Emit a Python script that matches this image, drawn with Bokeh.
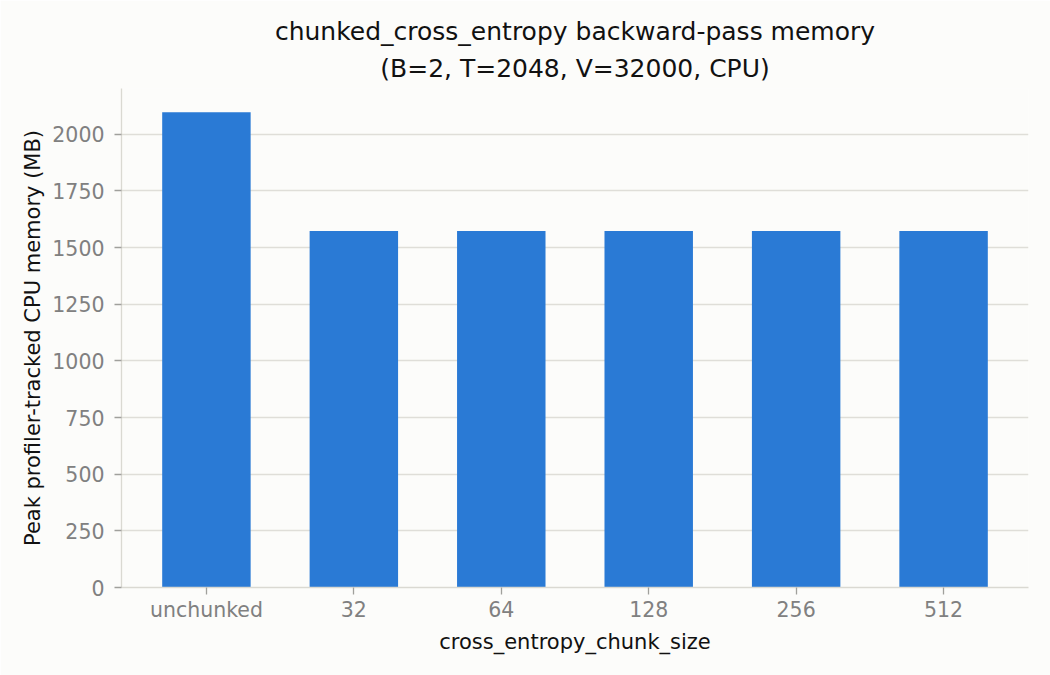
from bokeh.plotting import figure
from bokeh.models import FactorRange, Range1d, FixedTicker, ColumnDataSource, Title
from bokeh.embed import file_html
from bokeh.resources import INLINE

categories = ["unchunked", "32", "64", "128", "256", "512"]
memory_mb = [2097, 1573, 1573, 1573, 1573, 1573]
y_ticks = [0, 250, 500, 750, 1000, 1250, 1500, 1750, 2000]
title_lines = ["chunked_cross_entropy backward-pass memory", "(B=2, T=2048, V=32000, CPU)"]

FONT = "DejaVu Sans"
BG = "#fcfcfa"

src = ColumnDataSource(dict(cat=categories, mem=memory_mb))

p = figure(
    width=1050, height=675,
    x_range=FactorRange(*categories, range_padding=0.076, range_padding_units="absolute"),
    y_range=Range1d(0, 2202),
    output_backend="svg", toolbar_location=None,
    min_border_left=121, min_border_right=22, min_border_top=88, min_border_bottom=88,
)
p.background_fill_color = BG
p.border_fill_color = BG
p.outline_line_color = None

p.vbar(x="cat", top="mem", width=0.6, source=src, fill_color="#2a7ad5", line_color=None)

# second line first (closest to frame), then first line above it
standoffs = [12, 0]
for i, txt in enumerate(reversed(title_lines)):
    p.add_layout(Title(text=txt, align="center", text_font=FONT, text_font_size="25px",
                       text_font_style="normal", text_color="#111111",
                       standoff=standoffs[i], offset=0), "above")

p.xgrid.grid_line_color = None
p.ygrid.grid_line_color = "#dfded8"
p.ygrid.grid_line_width = 1.3
p.yaxis.ticker = FixedTicker(ticks=y_ticks)

for ax in (p.xaxis, p.yaxis):
    ax.axis_line_color = "#dad9d2"
    ax.axis_line_width = 1.3
    ax.major_tick_line_color = "#a0a09c"
    ax.major_tick_line_width = 1.3
    ax.major_tick_out = 7
    ax.major_tick_in = 0
    ax.minor_tick_line_color = None
    ax.major_label_text_font = FONT
    ax.major_label_text_font_size = "20.5px"
    ax.major_label_text_color = "#808080"
    ax.axis_label_text_font = FONT
    ax.axis_label_text_font_size = "21px"
    ax.axis_label_text_font_style = "normal"
    ax.axis_label_text_color = "#111111"

p.yaxis.major_label_standoff = 10
p.yaxis.axis_label_standoff = 4
p.xaxis.major_label_standoff = 3

p.xaxis.axis_label = "cross_entropy_chunk_size"
p.yaxis.axis_label = "Peak profiler-tracked CPU memory (MB)"

open("out.html", "w").write(file_html(p, INLINE))
